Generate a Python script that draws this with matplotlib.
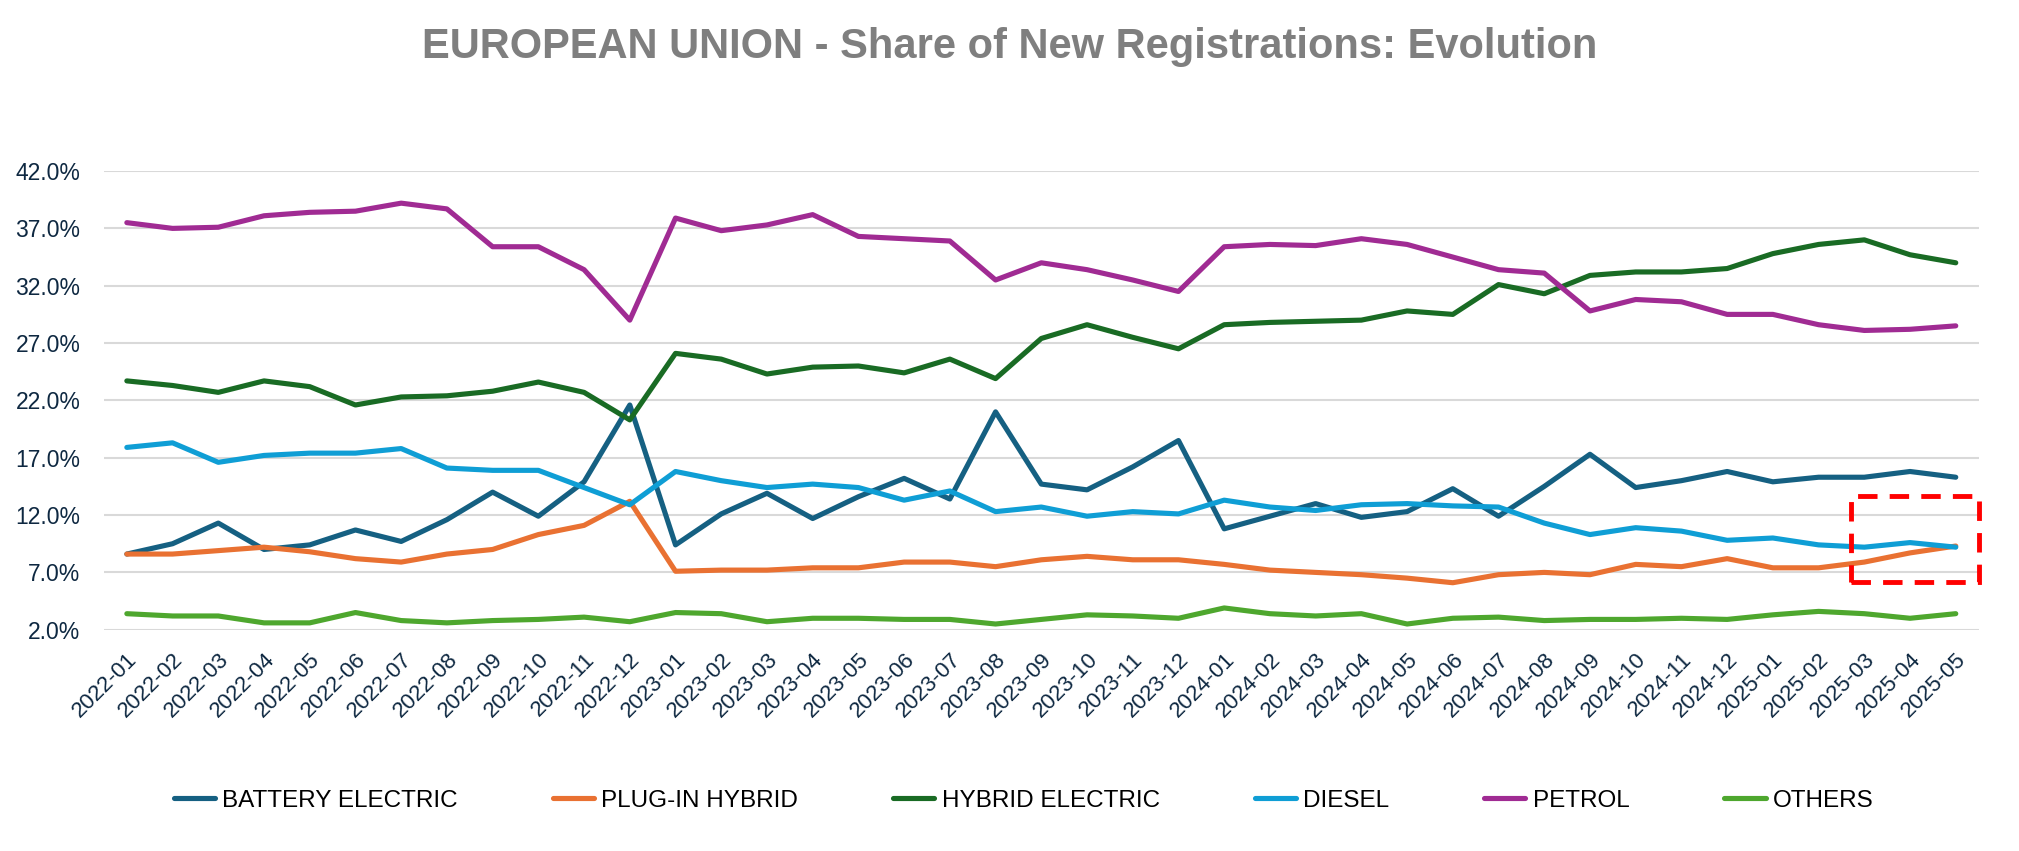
import matplotlib
matplotlib.use("Agg")
import matplotlib.pyplot as plt
import matplotlib.patches as patches
import numpy as np

plt.rcParams['font.family'] = ['Liberation Sans', 'DejaVu Sans']

months = ['2022-01', '2022-02', '2022-03', '2022-04', '2022-05', '2022-06', '2022-07',
          '2022-08', '2022-09', '2022-10', '2022-11', '2022-12',
          '2023-01', '2023-02', '2023-03', '2023-04', '2023-05', '2023-06', '2023-07',
          '2023-08', '2023-09', '2023-10', '2023-11', '2023-12',
          '2024-01', '2024-02', '2024-03', '2024-04', '2024-05', '2024-06', '2024-07',
          '2024-08', '2024-09', '2024-10', '2024-11', '2024-12',
          '2025-01', '2025-02', '2025-03', '2025-04', '2025-05']

battery_electric = [8.6, 9.5, 11.3, 9.0, 9.4, 10.7, 9.7, 11.6, 14.0, 11.9, 14.9, 21.6,
                    9.4, 12.1, 13.9, 11.7, 13.6, 15.2, 13.4, 21.0, 14.7, 14.2, 16.2, 18.5,
                    10.8, 11.9, 13.0, 11.8, 12.3, 14.3, 11.9, 14.5, 17.3, 14.4, 15.0, 15.8,
                    14.9, 15.3, 15.3, 15.8, 15.3]
plug_in_hybrid = [8.6, 8.6, 8.9, 9.2, 8.8, 8.2, 7.9, 8.6, 9.0, 10.3, 11.1, 13.2,
                  7.1, 7.2, 7.2, 7.4, 7.4, 7.9, 7.9, 7.5, 8.1, 8.4, 8.1, 8.1,
                  7.7, 7.2, 7.0, 6.8, 6.5, 6.1, 6.8, 7.0, 6.8, 7.7, 7.5, 8.2,
                  7.4, 7.4, 7.9, 8.7, 9.3]
hybrid_electric = [23.7, 23.3, 22.7, 23.7, 23.2, 21.6, 22.3, 22.4, 22.8, 23.6, 22.7, 20.3,
                   26.1, 25.6, 24.3, 24.9, 25.0, 24.4, 25.6, 23.9, 27.4, 28.6, 27.5, 26.5,
                   28.6, 28.8, 28.9, 29.0, 29.8, 29.5, 32.1, 31.3, 32.9, 33.2, 33.2, 33.5,
                   34.8, 35.6, 36.0, 34.7, 34.0]
diesel = [17.9, 18.3, 16.6, 17.2, 17.4, 17.4, 17.8, 16.1, 15.9, 15.9, 14.4, 12.9,
          15.8, 15.0, 14.4, 14.7, 14.4, 13.3, 14.1, 12.3, 12.7, 11.9, 12.3, 12.1,
          13.3, 12.7, 12.4, 12.9, 13.0, 12.8, 12.7, 11.3, 10.3, 10.9, 10.6, 9.8,
          10.0, 9.4, 9.2, 9.6, 9.2]
petrol = [37.5, 37.0, 37.1, 38.1, 38.4, 38.5, 39.2, 38.7, 35.4, 35.4, 33.4, 29.0,
          37.9, 36.8, 37.3, 38.2, 36.3, 36.1, 35.9, 32.5, 34.0, 33.4, 32.5, 31.5,
          35.4, 35.6, 35.5, 36.1, 35.6, 34.5, 33.4, 33.1, 29.8, 30.8, 30.6, 29.5,
          29.5, 28.6, 28.1, 28.2, 28.5]
others = [3.4, 3.2, 3.2, 2.6, 2.6, 3.5, 2.8, 2.6, 2.8, 2.9, 3.1, 2.7,
          3.5, 3.4, 2.7, 3.0, 3.0, 2.9, 2.9, 2.5, 2.9, 3.3, 3.2, 3.0,
          3.9, 3.4, 3.2, 3.4, 2.5, 3.0, 3.1, 2.8, 2.9, 2.9, 3.0, 2.9,
          3.3, 3.6, 3.4, 3.0, 3.4]

series = [
    ('BATTERY ELECTRIC', battery_electric, '#156082'),
    ('PLUG-IN HYBRID', plug_in_hybrid, '#E97132'),
    ('HYBRID ELECTRIC', hybrid_electric, '#196B24'),
    ('DIESEL', diesel, '#0F9ED5'),
    ('PETROL', petrol, '#A02B93'),
    ('OTHERS', others, '#4EA72E'),
]

fig = plt.figure(figsize=(20.19, 8.51), dpi=100)
ax = fig.add_axes([0.0515, 0.26, 0.9285, 0.539])

x = np.arange(len(months))
for name, vals, col in series:
    ax.plot(x, vals, color=col, lw=3.7, label=name,
            solid_capstyle='round', solid_joinstyle='round')

ax.set_xlim(-0.5, len(months) - 0.5)
ax.set_ylim(2, 42)
yt = np.arange(2, 43, 5)
ax.set_yticks(yt)
ax.set_yticklabels([f'{v:.1f}%' for v in yt])
ax.set_xticks(x)
ax.set_xticklabels(months, rotation=45, ha='right', rotation_mode='anchor')
ax.tick_params(axis='both', length=0, labelcolor='#0E2841')
ax.tick_params(axis='x', pad=14, labelsize=16)
ax.tick_params(axis='y', pad=17, labelsize=16.5)
ax.grid(axis='y', color='#D9D9D9', lw=1.5)
ax.set_axisbelow(True)
for s in ax.spines.values():
    s.set_visible(False)

# highlight box around the last months
box = patches.Rectangle((37.7, 6.2), 2.8, 7.45, fill=False, ec='red', lw=3.5,
                        ls=(0, (4, 2.5)), clip_on=False, zorder=5)
ax.add_patch(box)

fig.text(0.5, 0.945, 'EUROPEAN UNION - Share of New Registrations: Evolution',
         ha='center', va='center', fontsize=30, fontweight='bold', color='#7F7F7F')

fig.legend(loc='center', bbox_to_anchor=(0.507, 0.059), ncol=6, frameon=False,
           fontsize=17.5, handlelength=1.7, handletextpad=0.3, columnspacing=3.9)

fig.savefig('out.png', dpi=100)
